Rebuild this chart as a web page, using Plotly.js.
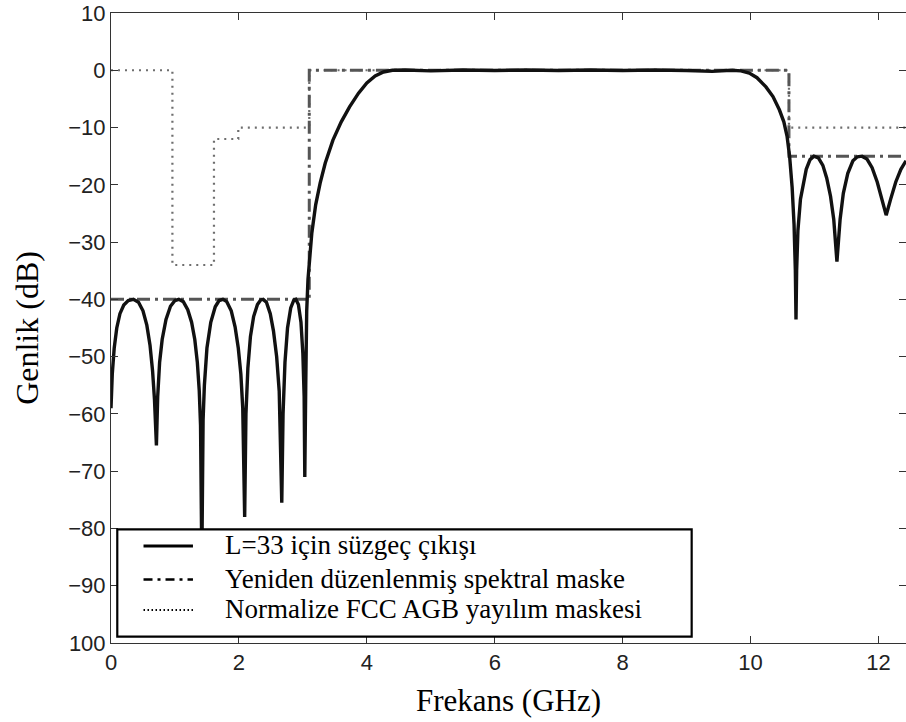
<!DOCTYPE html>
<html>
<head>
<meta charset="utf-8">
<script src="https://cdn.plot.ly/plotly-3.0.1.min.js"></script>
<style>html,body{margin:0;padding:0;background:#fff;}#chart{width:906px;height:722px;}</style>
</head>
<body>
<div id="chart"></div>
<script>
// Filter output (L=33)
const freq = [0,0.02,0.05,0.09,0.14,0.2,0.27,0.35,0.43,0.5,0.56,0.61,0.65,0.68,0.71,
  0.73,0.76,0.80,0.86,0.93,1.0,1.06,1.13,1.20,1.26,1.31,1.35,1.38,1.40,1.42,
  1.44,1.46,1.50,1.56,1.63,1.69,1.75,1.81,1.88,1.94,1.99,2.03,2.06,2.09,
  2.11,2.14,2.18,2.23,2.29,2.34,2.38,2.43,2.49,2.54,2.59,2.63,2.67,
  2.69,2.72,2.76,2.81,2.86,2.89,2.93,2.97,3.00,3.02,3.03,
  3.045,3.06,3.08,3.11,3.14,3.2,3.27,3.35,3.47,3.6,3.73,3.87,4.0,4.13,4.26,4.4,
  4.6,5.0,5.5,6.0,6.5,7.0,7.5,8.0,8.5,9.0,9.4,9.7,9.85,
  9.98,10.1,10.24,10.35,10.45,10.52,10.57,10.61,10.65,10.68,10.70,10.71,
  10.72,10.74,10.78,10.82,10.87,10.93,10.99,11.06,11.13,11.19,11.25,11.3,11.35,
  11.4,11.45,11.52,11.6,11.67,11.74,11.82,11.9,11.98,12.05,12.12,
  12.19,12.27,12.35,12.43];
const gain = [-59,-53,-48.5,-45,-42.5,-41,-40.2,-40,-40.5,-42,-44.5,-48,-52.5,-57.5,-65.5,
  -57,-51,-47,-43.5,-41.2,-40.2,-40,-40.4,-41.8,-44,-47,-51,-56,-62,-86,
  -61,-55,-48.5,-44,-41.3,-40.2,-40,-40.4,-42,-44.8,-48.5,-53,-59,-78,
  -60,-52,-46.5,-43,-40.9,-40.1,-40,-40.5,-42.5,-45.5,-50,-56,-75.5,
  -60,-51,-45,-41.5,-40.1,-40,-40.9,-44,-49.5,-57,-71,
  -55,-42,-36.5,-32,-28.4,-23.5,-19.7,-16.2,-12.2,-9,-6.4,-4,-2.2,-1,-0.3,0,
  0.05,-0.1,0.05,-0.05,0.05,-0.05,0.05,-0.05,0.05,-0.05,-0.2,0,-0.1,
  -0.5,-1.3,-2.9,-4.6,-6.9,-9,-11.5,-15,-20.5,-27,-35,-43.5,
  -35,-28,-22.5,-19.8,-17.3,-15.6,-15,-15.3,-16.6,-18.8,-22,-26,-33.4,
  -26,-21.5,-18,-15.8,-15.1,-15,-15.5,-17,-19.5,-22.5,-25.3,
  -22.5,-19.5,-17.3,-15.8];

// Modified spectral mask
const maskX = [0, 3.1, 3.1, 10.6, 10.6, 12.43];
const maskY = [-40, -40, 0, 0, -15, -15];

// Normalized FCC UWB emission mask
const fccX = [0, 0.96, 0.96, 1.61, 1.61, 1.99, 1.99, 3.1, 3.1, 10.6, 10.6, 12.43];
const fccY = [0, 0, -34, -34, -12, -12, -10, -10, 0, 0, -10, -10];

const names = ["L=33 için süzgeç çıkışı", "Yeniden düzenlenmiş spektral maske", "Normalize FCC AGB yayılım maskesi"];

const xTicks = [0, 2, 4, 6, 8, 10, 12];
const yTicks = [-100, -90, -80, -70, -60, -50, -40, -30, -20, -10, 0, 10];
const yTickText = ["100", "\u221290", "\u221280", "\u221270", "\u221260", "\u221250", "\u221240", "\u221230", "\u221220", "\u221210", "0", "10"];

const traces = [
  {x: fccX, y: fccY, name: names[2], mode: 'lines', showlegend: false, line: {color: '#6e6e6e', width: 2.2, dash: '2px,5px'}},
  {x: maskX, y: maskY, name: names[1], mode: 'lines', showlegend: false, line: {color: '#555', width: 3, dash: '13px,5px,3px,5px'}},
  {x: freq, y: gain, name: names[0], mode: 'lines', showlegend: false, line: {color: '#111', width: 3.4}}
];

const tickFont = {family: 'Liberation Sans, Arial, sans-serif', size: 22, color: '#222'};
const serif = 'Liberation Serif, Times New Roman, serif';

// legend (drawn as a box with line samples and labels, paper coordinates)
const legBox = {x0: 0.0079, x1: 0.7304, y0: 0.0100, y1: 0.1805};
const legRowsY = [0.1540, 0.1008, 0.0524];
const legSampleX = [0.0409, 0.1031];
const legTextX = 0.1413;
const legDash = ['solid', '9px,5px,3px,5px', '1.5px,2.5px'];
const legWidth = [3, 2.5, 2];

const shapes = [{type: 'rect', xref: 'paper', yref: 'paper', x0: legBox.x0, x1: legBox.x1, y0: legBox.y0, y1: legBox.y1,
  fillcolor: '#fff', line: {color: '#000', width: 2.2}, layer: 'above'}];
const annotations = [];
names.forEach((n, i) => {
  shapes.push({type: 'line', xref: 'paper', yref: 'paper', x0: legSampleX[0], x1: legSampleX[1], y0: legRowsY[i], y1: legRowsY[i],
    line: {color: '#000', width: legWidth[i], dash: legDash[i]}, layer: 'above'});
  annotations.push({xref: 'paper', yref: 'paper', x: legTextX, y: legRowsY[i] + 0.001, xanchor: 'left', yanchor: 'middle',
    text: n, showarrow: false, font: {family: serif, size: 27, color: '#000'}});
});

const layout = {
  width: 906, height: 722,
  margin: {l: 111, r: 0, t: 13, b: 79},
  paper_bgcolor: '#fff', plot_bgcolor: '#fff',
  showlegend: false,
  shapes: shapes,
  annotations: annotations,
  xaxis: {range: [0, 12.43], tickvals: xTicks, ticks: 'inside', ticklen: 7, tickwidth: 1,
    tickcolor: '#333', showline: true, linecolor: '#333', linewidth: 1, mirror: 'ticks',
    showgrid: false, zeroline: false, tickfont: tickFont,
    title: {text: 'Frekans (GHz)', font: {family: serif, size: 31, color: '#000'}, standoff: 14}},
  yaxis: {range: [-100, 10], tickvals: yTicks, ticktext: yTickText, ticks: 'inside', ticklen: 7, tickwidth: 1,
    tickcolor: '#333', showline: true, linecolor: '#333', linewidth: 1, mirror: 'ticks',
    showgrid: false, zeroline: false, tickfont: tickFont,
    title: {text: 'Genlik (dB)', font: {family: serif, size: 32, color: '#000'}, standoff: 20}}
};

Plotly.newPlot('chart', traces, layout, {staticPlot: true, displayModeBar: false});
</script>
</body>
</html>
